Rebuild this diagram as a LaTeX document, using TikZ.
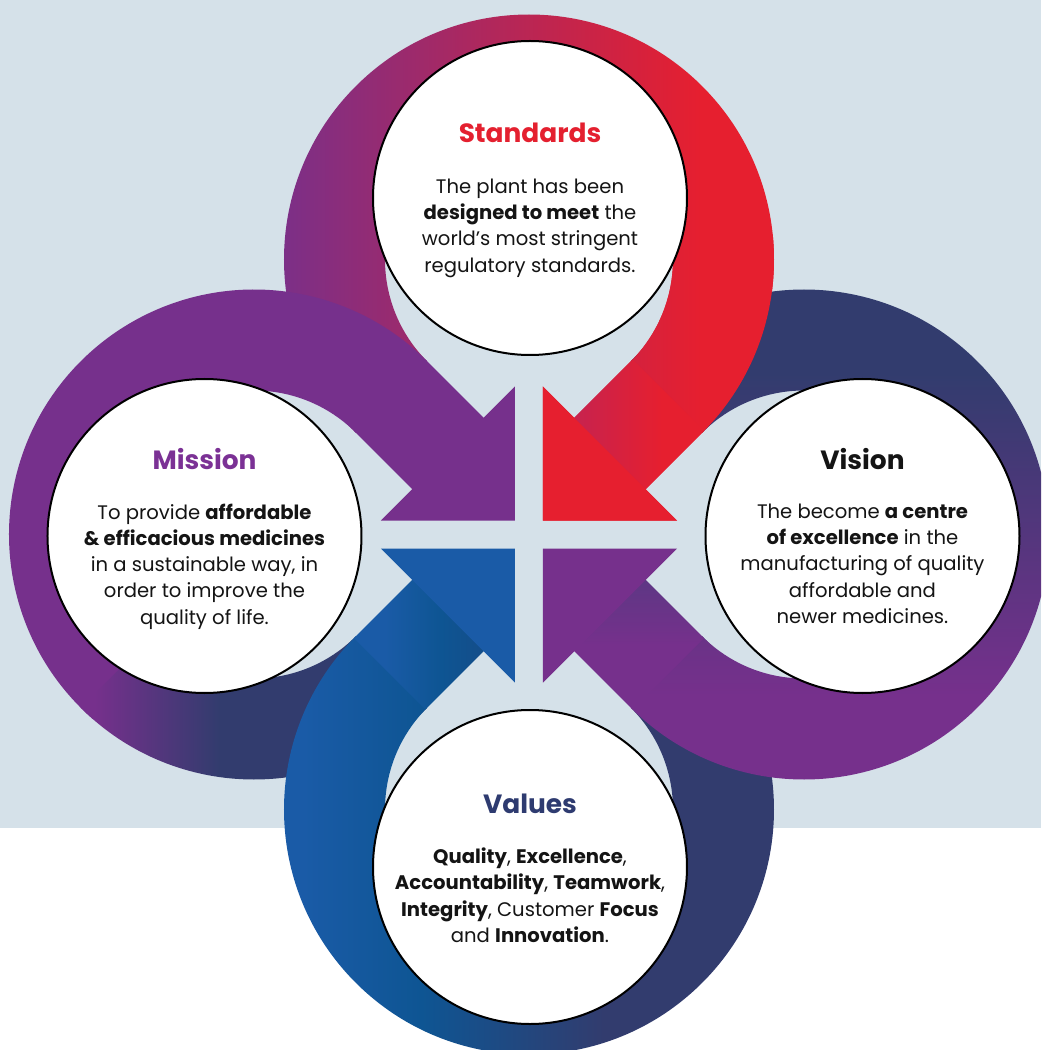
\documentclass[tikz,border=0pt]{standalone}
\usepackage{fontspec}
\setmainfont{Poppins}
\usetikzlibrary{calc}

\definecolor{bgblue}{HTML}{D5E1E9}
\definecolor{bandred}{HTML}{E61F2F}
\definecolor{bandpurple}{HTML}{76308C}
\definecolor{bandnavy}{HTML}{323C6E}
\definecolor{bandblue}{HTML}{1A5BA7}
\definecolor{shaftmag}{HTML}{C6234F}
\definecolor{shaftblue}{HTML}{0E5593}
\definecolor{shaftdeep}{HTML}{144D89}
\definecolor{shaftplum}{HTML}{5A3883}
\definecolor{titlered}{HTML}{E4202F}
\definecolor{titlepurple}{HTML}{7B3195}
\definecolor{titlenavy}{HTML}{2E3B70}
\definecolor{bodyink}{HTML}{141414}

\pgfdeclarehorizontalshading{standardsarc}{100bp}{color(0bp)=(bandpurple); color(25bp)=(bandpurple); color(66bp)=(bandred); color(100bp)=(bandred)}
\pgfdeclareverticalshading{visionarc}{100bp}{color(0bp)=(bandpurple); color(35bp)=(bandpurple); color(65bp)=(bandnavy); color(100bp)=(bandnavy)}
\pgfdeclarehorizontalshading{valuesarc}{100bp}{color(0bp)=(bandblue); color(29bp)=(bandblue); color(40bp)=(shaftblue); color(57bp)=(bandnavy); color(100bp)=(bandnavy)}
\pgfdeclarehorizontalshading{missionarc}{100bp}{color(0bp)=(bandpurple); color(27bp)=(bandpurple); color(45bp)=(bandnavy); color(100bp)=(bandnavy)}
\pgfdeclarehorizontalshading{standardsshaft}{100bp}{color(0bp)=(shaftmag); color(28bp)=(shaftmag); color(60bp)=(bandred); color(100bp)=(bandred)}
\pgfdeclarehorizontalshading{valuesshaft}{100bp}{color(0bp)=(bandblue); color(36bp)=(bandblue); color(56bp)=(shaftblue); color(72bp)=(shaftdeep); color(100bp)=(shaftdeep)}
\pgfdeclareverticalshading{visionshaft}{100bp}{color(0bp)=(bandpurple); color(48bp)=(bandpurple); color(75bp)=(shaftplum); color(100bp)=(shaftplum)}

\newcommand{\bandarc}[3]{($(#1)+(#2:245)$) arc[start angle=#2, end angle=#3, radius=245] -- ($(#1)+(#3:144)$) arc[start angle=#3, end angle=#2, radius=144] -- cycle}
\newcommand{\standardsband}{%
  \shade[shading=standardsarc] \bandarc{cs}{225}{-45};
  \shade[shading=standardsshaft] (175,103.6) -- (106.9,35.5) -- (35.5,106.9) -- (103.6,175) -- cycle;
  \fill[bandred] (148,14) -- (14,14) -- (14,148) -- cycle;}

\begin{document}
\begin{tikzpicture}[x=0.5pt,y=0.5pt,
    disc/.style={circle,draw=black,line width=1pt,fill=white,minimum size=157pt,inner sep=0pt},
    titletext/.style={font=\fontsize{13.2}{16}\selectfont\bfseries,anchor=base,inner sep=0pt},
    blurb/.style={font=\fontsize{9.8}{13.1}\selectfont,align=center,anchor=north,inner sep=0pt,text=bodyink}]
  \useasboundingbox (-529,-515.5) rectangle (512,534.5);
  \clip (-529,-515.5) rectangle (512,534.5);
  \fill[white] (-529,-515.5) rectangle (512,534.5);
  \fill[bgblue] (-529,-293.5) rectangle (512,534.5);

  \coordinate (cs) at (0,275);
  \coordinate (cm) at (-275,0);
  \coordinate (cv) at (0,-275);
  \coordinate (ci) at (275,0);

  \standardsband

  \fill[bandpurple] \bandarc{cm}{229}{45};
  \shade[shading=missionarc] \bandarc{cm}{315}{225};
  \fill[bandpurple] (-103.6,175) -- (-35.5,106.9) -- (-106.9,35.5) -- (-175,103.6) -- cycle;
  \fill[bandpurple] (-14,148) -- (-14,14) -- (-148,14) -- cycle;

  \shade[shading=valuesarc] \bandarc{cv}{45}{-225};
  \shade[shading=valuesshaft] (-175,-103.6) -- (-106.9,-35.5) -- (-35.5,-106.9) -- (-103.6,-175) -- cycle;
  \fill[bandblue] (-148,-14) -- (-14,-14) -- (-14,-148) -- cycle;

  \shade[shading=visionarc] \bandarc{ci}{135}{-135};
  \shade[shading=visionshaft] (103.6,-175) -- (35.5,-106.9) -- (106.9,-35.5) -- (175,-103.6) -- cycle;
  \fill[bandpurple] (14,-148) -- (14,-14) -- (148,-14) -- cycle;

  \begin{scope}
    \clip (0,0) rectangle (300,300);
    \standardsband
  \end{scope}

  \node[disc] (standards) at (1,336.5) {};
  \node[disc] (mission) at (-324.5,-1.5) {};
  \node[disc] (vision) at (333.5,-1.5) {};
  \node[disc] (values) at (1,-332.5) {};

  \node[titletext,text=titlered] (standardstitle) at ($(standards)+(0,55)$) {Standards};
  \node[blurb] (standardstext) at ($(standards)+(0,19.5)$)
    {The plant has been\\\textbf{designed to meet} the\\world’s most stringent\\regulatory standards.};
  \node[titletext,text=titlepurple] (missiontitle) at ($(mission)+(0,67)$) {Mission};
  \node[blurb] (missiontext) at ($(mission)+(0,32.5)$)
    {To provide \textbf{affordable}\\\textbf{\& efficacious medicines}\\in a sustainable way, in\\order to improve the\\quality of life.};
  \node[titletext,text=bodyink] (visiontitle) at ($(vision)+(0,67)$) {Vision};
  \node[blurb] (visiontext) at ($(vision)+(0,32.5)$)
    {The become \textbf{a centre}\\\textbf{of excellence} in the\\manufacturing of quality\\affordable and\\newer medicines.};
  \node[titletext,text=titlenavy] (valuestitle) at ($(values)+(0,54)$) {Values};
  \node[blurb] (valuestext) at ($(values)+(0,19.5)$)
    {\textbf{Quality}, \textbf{Excellence},\\\textbf{Accountability}, \textbf{Teamwork},\\\textbf{Integrity}, Customer \textbf{Focus}\\and \textbf{Innovation}.};
\end{tikzpicture}
\end{document}
